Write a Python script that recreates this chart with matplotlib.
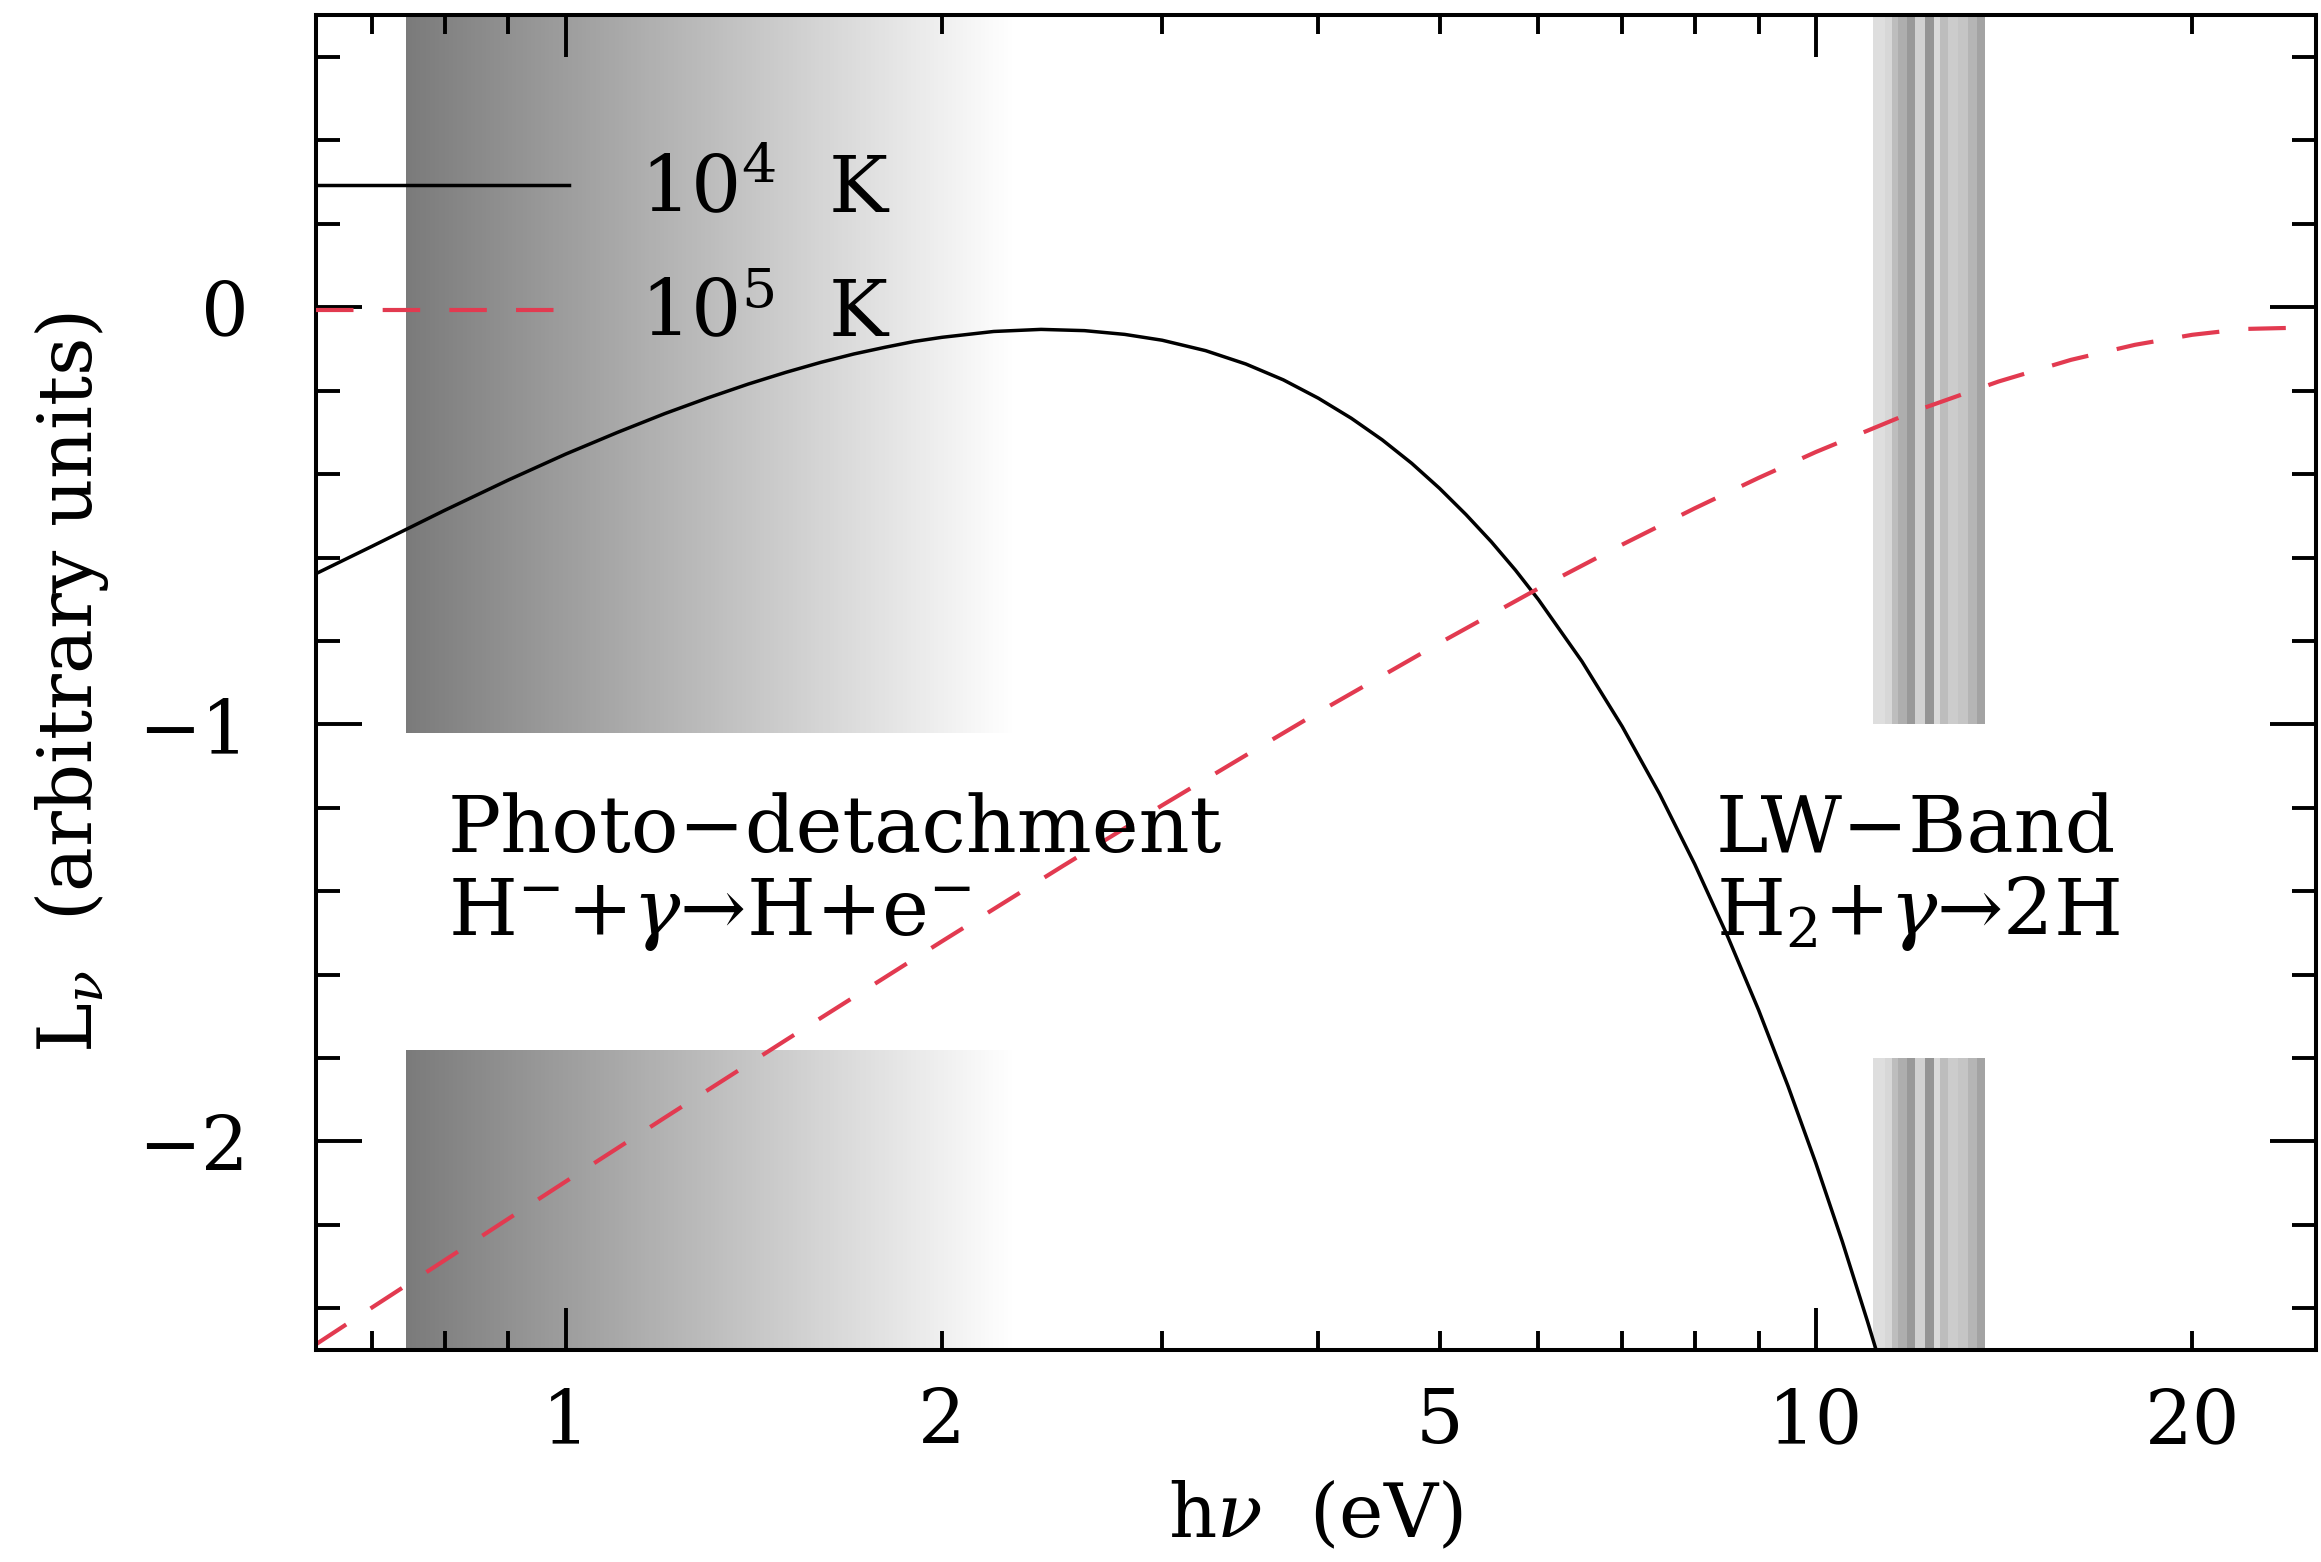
import numpy as np
import matplotlib
matplotlib.use("Agg")
import matplotlib.pyplot as plt
from matplotlib.ticker import FixedLocator, FixedFormatter, FuncFormatter

plt.rcParams["font.family"] = ["DejaVu Serif"]
plt.rcParams["mathtext.fontset"] = "dejavuserif"
plt.rcParams["axes.unicode_minus"] = True

# Blackbody spectra: photon energy (eV) and log10 L_nu (arbitrary units)
energy_1e4 = [0.63, 0.7, 0.8, 0.9, 1.0, 1.1, 1.2, 1.3, 1.4, 1.5, 1.6, 1.7, 1.8,
              1.9, 2.0, 2.2, 2.4, 2.6, 2.8, 3.0, 3.25, 3.5, 3.75, 4.0, 4.25,
              4.5, 4.75, 5.0, 5.25, 5.5, 5.75, 6.0, 6.5, 7.0, 7.5, 8.0, 8.5,
              9.0, 9.5, 10.0, 10.5, 11.0, 11.3]
logL_1e4 = [-0.640, -0.573, -0.487, -0.414, -0.352, -0.300, -0.255, -0.217,
            -0.184, -0.156, -0.132, -0.112, -0.096, -0.082, -0.072, -0.058,
            -0.053, -0.056, -0.065, -0.079, -0.104, -0.136, -0.174, -0.218,
            -0.266, -0.318, -0.374, -0.434, -0.497, -0.562, -0.630, -0.701,
            -0.849, -1.005, -1.167, -1.335, -1.508, -1.685, -1.867, -2.052,
            -2.240, -2.432, -2.548]

energy_1e5 = [0.63, 0.7, 0.8, 0.9, 1.0, 1.2, 1.5, 2.0, 2.5, 3.0, 3.5, 4.0, 5.0,
              6.0, 7.0, 8.0, 9.0, 10.0, 12.0, 14.0, 16.0, 18.0, 20.0, 22.0, 25.1]
logL_1e5 = [-2.488, -2.398, -2.285, -2.185, -2.096, -1.943, -1.757, -1.520,
            -1.339, -1.194, -1.074, -0.971, -0.805, -0.674, -0.569, -0.482,
            -0.409, -0.347, -0.249, -0.178, -0.126, -0.090, -0.066, -0.052,
            -0.048]

series_labels = [r"$10^4$  K", r"$10^5$  K"]

# H- photo-detachment window (eV) and the vertical extent of its two boxes
detach_range = (0.745, 2.3)
detach_boxes = [(-1.02, 0.7), (-2.5, -1.78)]

# Lyman-Werner band: stripe edges (eV) and grey level of each stripe
lw_edges = [11.12, 11.36, 11.50, 11.64, 11.82, 12.00, 12.23, 12.42, 12.57,
            12.76, 13.00, 13.24, 13.45, 13.66]
lw_shades = [0.87, 0.84, 0.74, 0.68, 0.60, 0.82, 0.58, 0.85, 0.74, 0.80,
             0.77, 0.71, 0.64]
lw_boxes = [(-1.0, 0.7), (-2.5, -1.8)]

xtick_values = [1, 2, 5, 10, 20]
ytick_values = [0, -1, -2]
ytick_labels = ["0", "\u22121", "\u22122"]

FS = 54      # tick labels and axis titles
FS_TXT = 57  # legend and annotations

fig = plt.figure(figsize=(23.21, 15.62), dpi=100)
ax = fig.add_axes([0.136, 0.1357, 0.8618, 0.8545])
ax.set_xscale("log")
ax.set_xlim(10 ** -0.2, 10 ** 1.4)
ax.set_ylim(-2.5, 0.7)

# grey gradient boxes marking the photo-detachment range
gx = np.geomspace(detach_range[0], detach_range[1], 300)
grad = np.linspace(0.48, 1.0, len(gx) - 1)[None, :]
for y0, y1 in detach_boxes:
    ax.pcolormesh(gx, [y0, y1], grad, cmap="gray", vmin=0, vmax=1,
                  shading="flat", edgecolors="none", antialiased=False, zorder=1)

# striped Lyman-Werner band
for y0, y1 in lw_boxes:
    ax.pcolormesh(lw_edges, [y0, y1], np.array(lw_shades)[None, :], cmap="gray",
                  vmin=0, vmax=1, shading="flat", edgecolors="none",
                  antialiased=False, zorder=1)

ax.plot(energy_1e4, logL_1e4, color="black", lw=2.5, zorder=3,
        label=series_labels[0], solid_joinstyle="round")
ax.plot(energy_1e5, logL_1e5, color="#e23a50", lw=3.0, dashes=(9, 7),
        zorder=3, label=series_labels[1])

leg = ax.legend(loc="upper left", bbox_to_anchor=(0.0, 0.897), frameon=False,
                fontsize=FS_TXT, handlelength=3.2, handletextpad=0.9,
                borderpad=0.0, borderaxespad=0.0, labelspacing=0.62)

# annotations
ax.text(0.805, -1.307, "Photo\u2212detachment", fontsize=FS_TXT, va="baseline", zorder=4)
ax.text(0.805, -1.506, r"H$^{-}$+$\gamma$→H+e$^{-}$", fontsize=FS_TXT, va="baseline", zorder=4)
ax.text(8.32, -1.307, "LW\u2212Band", fontsize=FS_TXT, va="baseline", zorder=4)
ax.text(8.32, -1.506, r"H$_2$+$\gamma$→2H", fontsize=FS_TXT, va="baseline", zorder=4)

# ticks
decades = [v for v in xtick_values if np.isclose(np.log10(v), round(np.log10(v)))]
minor_x = [m * 10 ** d for d in (-1, 0, 1) for m in range(2, 10)]
minor_x = [v for v in minor_x if v not in decades]
ax.xaxis.set_major_locator(FixedLocator(decades))
ax.xaxis.set_major_formatter(FixedFormatter([str(v) for v in decades]))
ax.xaxis.set_minor_locator(FixedLocator(minor_x))
ax.xaxis.set_minor_formatter(
    FuncFormatter(lambda v, p: f"{v:g}" if any(np.isclose(v, t) for t in xtick_values) else ""))

ax.yaxis.set_major_locator(FixedLocator(ytick_values))
ax.yaxis.set_major_formatter(FixedFormatter(ytick_labels))
ax.yaxis.set_minor_locator(FixedLocator(np.round(np.arange(-2.4, 0.7, 0.2), 1)))

ax.tick_params(which="both", direction="in", top=True, right=True,
               width=2.8, labelsize=FS, color="black")
ax.tick_params(axis="x", which="both", pad=26)
ax.tick_params(axis="y", which="both", pad=48)
ax.tick_params(axis="x", which="major", length=30)
ax.tick_params(axis="x", which="minor", length=14)
ax.tick_params(axis="y", which="major", length=33)
ax.tick_params(axis="y", which="minor", length=17)

for s in ax.spines.values():
    s.set_linewidth(2.9)
    s.set_zorder(5)

ax.set_xlabel(r"h$\nu$  (eV)", fontsize=FS)
ax.xaxis.set_label_coords(0.5, -0.125)
ax.xaxis.label.set_va("center")
ax.set_ylabel(r"L$_\nu$  (arbitrary units)", fontsize=FS)
ax.yaxis.set_label_coords(-0.122, 0.5)
ax.yaxis.label.set_va("center")

fig.savefig("out.png", dpi=100)
